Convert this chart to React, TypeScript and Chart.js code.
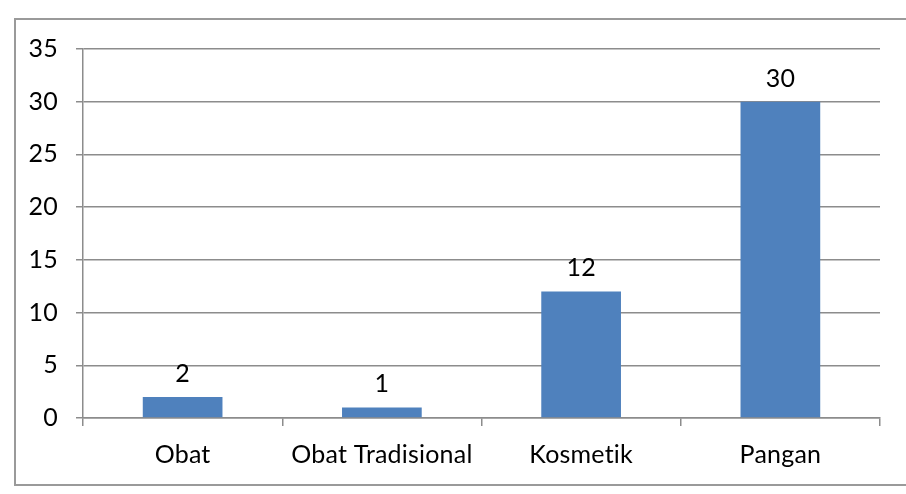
import React, { useEffect, useRef } from "react";
import { Chart, registerables } from "chart.js";

Chart.register(...registerables);

const categories = ["Obat", "Obat Tradisional", "Kosmetik", "Pangan"];
const values = [2, 1, 12, 30];
const yMin = 0;
const yMax = 35;
const yStep = 5;

const FONT = "Lato, 'Noto Sans', sans-serif";
const FONT_SIZE = 25;
const GRID = "#8c8c8c";

const outerBorder = {
  id: "outerBorder",
  beforeDraw(chart: any) {
    const ctx = chart.ctx;
    try {
      (ctx as any).letterSpacing = "0.2px";
      (ctx as any).fontVariantCaps = "normal";
    } catch (e) {}
    ctx.save();
    ctx.strokeStyle = "#9a9a9a";
    ctx.lineWidth = 2;
    ctx.strokeRect(15, 19, 1000, 466);
    ctx.restore();
  },
};

const valueLabels = {
  id: "valueLabels",
  afterDatasetsDraw(chart: any) {
    const ctx = chart.ctx;
    const meta = chart.getDatasetMeta(0);
    ctx.save();
    ctx.fillStyle = "#000";
    ctx.font = `${FONT_SIZE}px ${FONT}`;
    ctx.textAlign = "center";
    ctx.textBaseline = "alphabetic";
    meta.data.forEach((bar: any, i: number) => {
      ctx.fillText(String(values[i]), bar.x, bar.y - 15);
    });
    ctx.restore();
  },
};

export default function App() {
  const ref = useRef<HTMLCanvasElement | null>(null);
  useEffect(() => {
    if (!ref.current) return;
    const chart = new Chart(ref.current, {
      type: "bar",
      data: {
        labels: categories,
        datasets: [
          {
            data: values,
            backgroundColor: "#4F81BD",
            barPercentage: 0.4,
            categoryPercentage: 1,
          },
        ],
      },
      options: {
        animation: false,
        responsive: false,
        maintainAspectRatio: false,
        layout: { padding: { left: 0, top: 49, right: 26, bottom: 0 } },
        plugins: {
          legend: { display: false },
          tooltip: { enabled: false },
        },
        scales: {
          x: {
            offset: true,
            grid: {
              offset: true,
              drawOnChartArea: false,
              drawTicks: true,
              tickLength: 8,
              color: GRID,
              lineWidth: 1.5,
            },
            border: { color: GRID, width: 1.5 },
            ticks: {
              color: "#000",
              font: { family: FONT, size: FONT_SIZE },
              padding: 14,
              maxRotation: 0,
              autoSkip: false,
            },
            afterFit(scale: any) {
              scale.height = 76;
            },
          },
          y: {
            min: yMin,
            max: yMax,
            grid: {
              color: GRID,
              lineWidth: 1.5,
              tickLength: 7,
            },
            border: { color: GRID, width: 1.5 },
            ticks: {
              stepSize: yStep,
              color: "#000",
              font: { family: FONT, size: FONT_SIZE },
              padding: 18,
            },
            afterFit(scale: any) {
              scale.width = 83;
            },
          },
        },
      },
      plugins: [outerBorder, valueLabels],
    });
    return () => chart.destroy();
  }, []);
  return (
    <div style={{ position: "fixed", left: 0, top: 0, width: 906, height: 494, background: "#fff" }}>
      <canvas ref={ref} width={906} height={494} style={{ display: "block" }} />
    </div>
  );
}
